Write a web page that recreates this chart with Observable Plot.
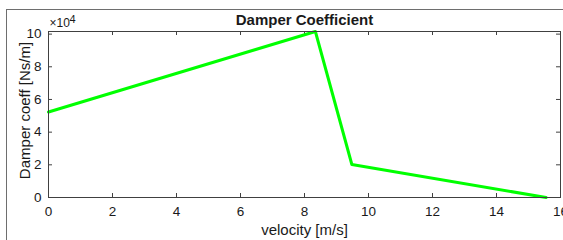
<!DOCTYPE html>
<html><head><meta charset="utf-8">
<script src="https://cdn.jsdelivr.net/npm/d3@7"></script>
<script src="https://cdn.jsdelivr.net/npm/@observablehq/plot@0.6"></script>
<style>
body{margin:0;background:#fff;}
#wrap{position:relative;width:563px;height:240px;overflow:hidden;}
#wrap svg{position:absolute;left:0;top:0;}
#edge{position:absolute;left:6px;top:9px;right:-2px;bottom:-2px;border-top:1px solid #6e6e6e;border-left:1px solid #6e6e6e;pointer-events:none;z-index:2;}
</style></head><body><div id="wrap"><div id="edge"></div></div>
<script>
const velocity = [0, 8.34, 9.48, 15.55];
const coeff = [52300, 101600, 20200, 0];
const xTicks = [0, 2, 4, 6, 8, 10, 12, 14, 16];
const yTicks = [0, 20000, 40000, 60000, 80000, 100000];
const yTickLabels = ["0", "2", "4", "6", "8", "10"];
const title = "Damper Coefficient";
const xLabel = "velocity [m/s]";
const yLabel = "Damper coeff [Ns/m]";
const exponentBase = "×10";
const exponentPower = "4";

const data = velocity.map((v, i) => ({v, c: coeff[i]}));
const axisColor = "#404040";
const textColor = "#1a1a1a";
const W = 563, H = 240, mL = 48, mR = 3, mT = 31, mB = 43;
const innerW = W - mL - mR, innerH = H - mT - mB, tick = 4;

const chart = Plot.plot({
  width: W, height: H,
  marginLeft: mL, marginRight: mR, marginTop: mT, marginBottom: mB,
  style: {fontFamily: "'Liberation Sans', Arial, sans-serif", background: "transparent", color: textColor},
  x: {domain: [0, 16]},
  y: {domain: [0, d3.max(coeff)]},
  marks: [
    Plot.tickX(xTicks, {x: d => d, insetTop: innerH - tick, stroke: axisColor}),
    Plot.tickX(xTicks, {x: d => d, insetBottom: innerH - tick, stroke: axisColor}),
    Plot.tickY(yTicks, {y: d => d, insetRight: innerW - tick, stroke: axisColor}),
    Plot.tickY(yTicks, {y: d => d, insetLeft: innerW - tick, stroke: axisColor}),
    Plot.axisX({ticks: xTicks, tickSize: 0, tickPadding: 9, fontSize: 13.5, label: null, fill: textColor}),
    Plot.axisY({ticks: yTicks, tickSize: 0, tickPadding: 7, fontSize: 13.5, label: null, fill: textColor,
      tickFormat: d => yTickLabels[yTicks.indexOf(d)]}),
    Plot.line(data, {x: "v", y: "c", stroke: "#00ff00", strokeWidth: 3}),
    Plot.frame({stroke: axisColor}),
    Plot.text([title], {frameAnchor: "top", textAnchor: "middle", lineAnchor: "bottom", dy: -6.3, fontSize: 15, fontWeight: "bold", fill: textColor}),
    Plot.text([xLabel], {frameAnchor: "bottom", textAnchor: "middle", lineAnchor: "bottom", dy: 37.5, fontSize: 15, fill: textColor}),
    Plot.text([yLabel], {frameAnchor: "left", textAnchor: "middle", lineAnchor: "bottom", rotate: -90, dx: -18.6, dy: -4, fontSize: 15, fill: textColor}),
    Plot.text([exponentBase], {frameAnchor: "top-left", textAnchor: "start", lineAnchor: "bottom", dx: 1, dy: -4.3, fontSize: 12, fill: textColor}),
    Plot.text([exponentPower], {frameAnchor: "top-left", textAnchor: "start", lineAnchor: "bottom", dx: 21, dy: -8.7, fontSize: 11, fill: textColor})
  ]
});
document.getElementById("wrap").appendChild(chart);
</script>
</body></html>
